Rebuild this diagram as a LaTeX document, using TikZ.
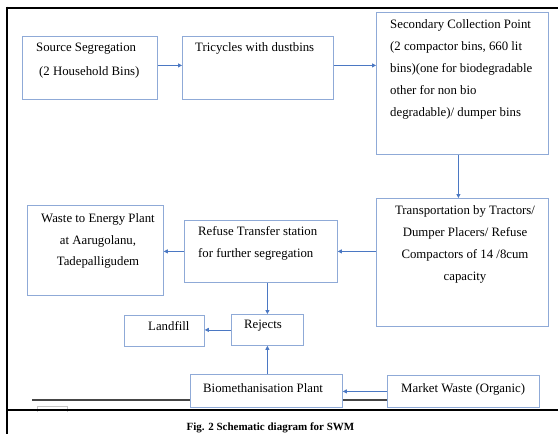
\documentclass[tikz,border=0pt]{standalone}
\usepackage{fontspec}
\setmainfont{Liberation Serif}
\usetikzlibrary{arrows.meta}
\definecolor{boxblue}{RGB}{143,170,215}
\definecolor{arrblue}{RGB}{75,120,195}
\definecolor{darkline}{RGB}{70,70,70}
\begin{document}
\begin{tikzpicture}[x=1pt,y=-1pt,
  box/.style={draw=boxblue,line width=0.8pt,fill=white,inner sep=0pt,anchor=north west},
  txt/.style={inner sep=0pt,anchor=north west,align=left,font=\fontsize{12.8}{22}\selectfont},
  ctxt/.style={inner sep=0pt,anchor=north,align=center,font=\fontsize{12.8}{22}\selectfont},
  arr/.style={draw=arrblue,line width=0.8pt,-{Triangle[length=4pt,width=4pt]}}]
\useasboundingbox (0,0) rectangle (558,434);
\fill[white] (0,0) rectangle (558,434);
% frame
\draw[line width=2pt] (6,7.5) -- (558,7.5);
\draw[line width=2.4pt] (7,6.5) -- (7,434);
\draw[darkline,line width=2pt] (32,400) -- (387,400);
\draw[gray!45,line width=0.8pt] (37,412) -- (37,406) -- (67,406) -- (67,412);
\draw[line width=1.4pt] (6,410) -- (558,410);
% boxes
\node[box,minimum width=135pt,minimum height=63pt] (src) at (22,36) {};
\node[box,minimum width=151pt,minimum height=63pt] (tri) at (182,36) {};
\node[box,minimum width=172pt,minimum height=142pt] (sec) at (376,12) {};
\node[box,minimum width=172pt,minimum height=128pt] (trans) at (376,198) {};
\node[box,minimum width=136pt,minimum height=90pt] (wte) at (27,205) {};
\node[box,minimum width=153pt,minimum height=62pt] (rts) at (184,220) {};
\node[box,minimum width=80pt,minimum height=31pt] (land) at (124,315) {};
\node[box,minimum width=72pt,minimum height=31pt] (rej) at (231,314) {};
\node[box,minimum width=152pt,minimum height=33pt] (bio) at (190,374) {};
\node[box,minimum width=152pt,minimum height=32pt] (mkt) at (387,375) {};
\draw[line width=1.4pt] (188,410) -- (545,410);
% texts
\node[txt,font=\fontsize{12.8}{24}\selectfont] (srct) at (36,34.7) {\strut Source Segregation\\\hspace{3pt}(2 Household Bins)};
\node[txt] (trit) at (195,36.1) {\strut Tricycles with dustbins};
\node[txt] (sect) at (390,13.1) {\strut Secondary Collection Point\\(2 compactor bins, 660 lit\\bins)(one for biodegradable\\other for non bio\\degradable)/ dumper bins};
\node[ctxt] (transt) at (465,199.1) {\strut Transportation by Tractors/\\Dumper Placers/ Refuse\\Compactors of 14 /8cum\\capacity};
\node[ctxt,font=\fontsize{12.8}{21.5}\selectfont] (wtet) at (98,207.5) {\strut Waste to Energy Plant\\at Aarugolanu,\\Tadepalligudem};
\node[txt] (rtst) at (198,220.1) {\strut Refuse Transfer station\\for further segregation};
\node[txt] (landt) at (148,315.1) {\strut Landfill};
\node[txt] (rejt) at (244,313.1) {\strut Rejects};
\node[txt] (biot) at (203,377) {\strut Biomethanisation Plant};
\node[txt] (mktt) at (401,377) {\strut Market Waste (Organic)};
\node[inner sep=0pt,anchor=base,font=\fontsize{11}{13}\selectfont\bfseries] (cap) at (270.5,430) {Fig. 2 Schematic diagram for SWM};
% arrows
\draw[arr] ([yshift=2.5pt]src.east) -- ([yshift=2.5pt]src.east -| tri.west);
\draw[arr] ([yshift=2.5pt]tri.east) -- ([yshift=2.5pt]tri.east -| sec.west);
\draw[arr] ([xshift=-4pt]sec.south) -- ([xshift=-4pt]sec.south |- trans.north);
\draw[arr] (rts.east -| trans.west) -- (rts.east);
\draw[arr] (rts.west) -- (rts.west -| wte.east);
\draw[arr] (rej.north |- rts.south) -- (rej.north);
\draw[arr] (rej.west) -- (rej.west -| land.east);
\draw[arr] (rej.south |- bio.north) -- (rej.south);
\draw[arr] (mkt.west) -- (mkt.west -| bio.east);
\end{tikzpicture}
\end{document}
